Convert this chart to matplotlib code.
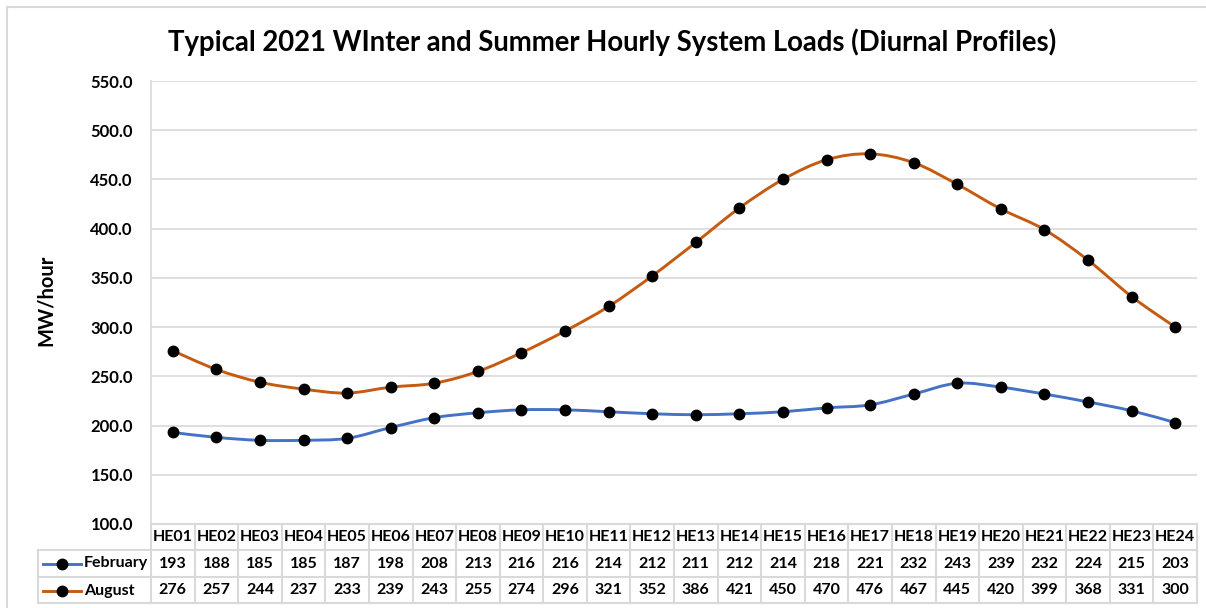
import matplotlib.pyplot as plt
import matplotlib.transforms as mtransforms
from matplotlib.path import Path
from matplotlib.patches import PathPatch, Rectangle
from matplotlib.lines import Line2D

plt.rcParams['font.family'] = ['Lato', 'DejaVu Sans']

# data
hours = ['HE%02d' % h for h in range(1, 25)]
february = [193, 188, 185, 185, 187, 198, 208, 213, 216, 216, 214, 212,
            211, 212, 214, 218, 221, 232, 243, 239, 232, 224, 215, 203]
august = [276, 257, 244, 237, 233, 239, 243, 255, 274, 296, 321, 352,
          386, 421, 450, 470, 476, 467, 445, 420, 399, 368, 331, 300]
series_names = ['February', 'August']
series_colors = ['#4472C4', '#C55A11']

W, H = 1206, 608
fig = plt.figure(figsize=(W / 100, H / 100), dpi=100)


def fx(px):
    return px / W


def fy(py):
    return 1 - py / H


# outer chart border
fig.patches.append(Rectangle((fx(7), fy(612)), fx(1210) - fx(7), fy(7) - fy(612),
                             transform=fig.transFigure, fill=False,
                             edgecolor='#D9D9D9', lw=1.5, zorder=0))

ax = fig.add_axes([fx(151), fy(524), fx(1197) - fx(151), fy(81) - fy(524)])
x = list(range(len(hours)))
ax.set_xlim(-0.5, len(hours) - 0.5)
ax.set_ylim(100, 550)
ax.set_yticks(range(100, 551, 50))
ax.set_yticklabels(['%.1f' % v for v in range(100, 551, 50)],
                   fontsize=12, fontweight='bold')
ax.set_xticks([])
ax.tick_params(axis='y', length=0, pad=13)
ax.grid(axis='y', color='#D9D9D9', lw=1.2)
ax.set_axisbelow(True)
for s in ['top', 'right', 'bottom']:
    ax.spines[s].set_visible(False)
ax.spines['left'].set_color('#D9D9D9')
ax.spines['left'].set_linewidth(1.2)


def smooth_path(xs, ys):
    # Bezier segments through the points, like Excel's smoothed line
    pts = list(zip(xs, ys))
    verts = [pts[0]]
    codes = [Path.MOVETO]
    n = len(pts)
    for i in range(n - 1):
        p0 = pts[i - 1] if i > 0 else pts[i]
        p1 = pts[i]
        p2 = pts[i + 1]
        p3 = pts[i + 2] if i + 2 < n else pts[i + 1]
        c1 = (p1[0] + (p2[0] - p0[0]) / 6, p1[1] + (p2[1] - p0[1]) / 6)
        c2 = (p2[0] - (p3[0] - p1[0]) / 6, p2[1] - (p3[1] - p1[1]) / 6)
        verts += [c1, c2, p2]
        codes += [Path.CURVE4] * 3
    return Path(verts, codes)


for vals, col in zip([february, august], series_colors):
    ax.add_patch(PathPatch(smooth_path(x, vals), fill=False, edgecolor=col,
                           lw=2.1, zorder=3))
    ax.plot(x, vals, linestyle='none', marker='o', markersize=7.5,
            color='black', zorder=4)

fig.text(fx(46), fy(300), 'MW/hour', rotation=90, ha='center', va='center',
         fontsize=14.5, fontweight='bold')

fig.text(fx(612), fy(42), 'Typical 2021 WInter and Summer Hourly System Loads (Diurnal Profiles)',
         ha='center', va='center', fontsize=19.8, fontweight='bold')

# data table under the plot
bt = mtransforms.blended_transform_factory(ax.transData, fig.transFigure)
grid_col = '#D9D9D9'
rows_y = [524, 550, 577, 603]
table_left = 38
tsize = 11.5

# horizontal lines
for i, py in enumerate(rows_y):
    x0 = fx(151) if i == 0 else fx(table_left)
    fig.add_artist(Line2D([x0, fx(1197)], [fy(py), fy(py)],
                          transform=fig.transFigure, color=grid_col, lw=1.5))
# vertical lines
for k in range(len(hours) + 1):
    fig.add_artist(Line2D([k - 0.5, k - 0.5], [fy(524), fy(603)], transform=bt,
                          color=grid_col, lw=1.5))
fig.add_artist(Line2D([fx(table_left)] * 2, [fy(550), fy(603)],
                      transform=fig.transFigure, color=grid_col, lw=1.5))

for k, h in enumerate(hours):
    fig.text(k, fy(537), h, transform=bt, ha='center', va='center',
             fontsize=tsize, fontweight='bold')
    fig.text(k, fy(563.5), str(february[k]), transform=bt, ha='center',
             va='center', fontsize=tsize, fontweight='bold')
    fig.text(k, fy(590.5), str(august[k]), transform=bt, ha='center',
             va='center', fontsize=tsize, fontweight='bold')

for name, col, py in zip(series_names, series_colors, [563.5, 590.5]):
    fig.add_artist(Line2D([fx(43), fx(81)], [fy(py), fy(py)],
                          transform=fig.transFigure, color=col, lw=2.1))
    fig.add_artist(Line2D([fx(62)], [fy(py)], transform=fig.transFigure,
                          marker='o', markersize=7.5, color='black'))
    fig.text(fx(84), fy(py), name, ha='left', va='center', fontsize=tsize,
             fontweight='bold')

fig.savefig('out.png', dpi=100)
